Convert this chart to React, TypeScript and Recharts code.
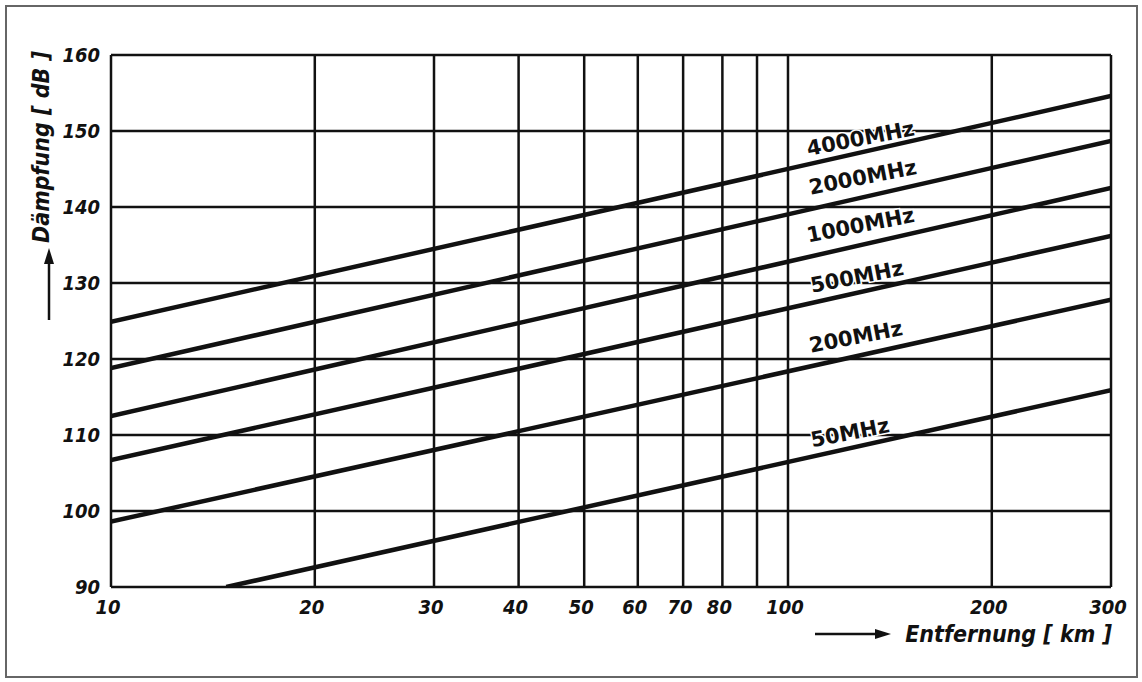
import React from "react";
import { CartesianGrid, Label, Line, LineChart, ReferenceDot, XAxis, YAxis } from "recharts";

// distance in km, loss in dB
const distanceKm = [10, 300];
const loss4000 = [124.9, 154.6];
const loss2000 = [118.8, 148.7];
const loss1000 = [112.5, 142.5];
const loss500 = [106.7, 136.2];
const loss200 = [98.6, 127.8];
const distance50 = [14.8, 300];
const loss50 = [90, 115.9];

const xTicks = [10, 20, 30, 40, 50, 60, 70, 80, 90, 100, 200, 300];
const yTicks = [90, 100, 110, 120, 130, 140, 150, 160];

const curveNames = ["4000MHz", "2000MHz", "1000MHz", "500MHz", "200MHz", "50MHz"];
const labelKm = [128, 129, 128, 126.5, 126, 123.5];
const labelDb = [149.0, 143.9, 137.6, 130.8, 122.9, 110.3];

const toPoints = (xs: number[], ys: number[]) => xs.map((x, i) => ({ km: x, db: ys[i] }));

const series = [
  toPoints(distanceKm, loss4000),
  toPoints(distanceKm, loss2000),
  toPoints(distanceKm, loss1000),
  toPoints(distanceKm, loss500),
  toPoints(distanceKm, loss200),
  toPoints(distance50, loss50)
];

const ink = "#111";
const tickFont = { fontFamily: "'DejaVu Sans Condensed', 'DejaVu Sans'", fontStyle: "italic", fontWeight: 700, fontSize: 20 };

function XTick({ x, y, payload }: any) {
  if (payload.value === 90) return null;
  return (
    <text x={x - 3} y={y + 20} textAnchor="middle" dominantBaseline="central" fill={ink} {...tickFont}>
      {payload.value}
    </text>
  );
}

function YTick({ x, y, payload }: any) {
  return (
    <text x={x - 11} y={y} textAnchor="end" dominantBaseline="central" fill={ink} {...tickFont}>
      {payload.value}
    </text>
  );
}

function CurveLabel({ viewBox, text }: any) {
  const cx = viewBox.x + viewBox.width / 2;
  const cy = viewBox.y + viewBox.height / 2;
  return (
    <text
      x={cx}
      y={cy}
      textAnchor="middle"
      dominantBaseline="central"
      transform={`rotate(-11, ${cx}, ${cy})`}
      fill={ink}
      stroke="#fff"
      strokeWidth={3}
      paintOrder="stroke"
      fontFamily="'DejaVu Sans', sans-serif"
      fontWeight={700}
      fontSize={21}
    >
      {text}
    </text>
  );
}

function YTitle() {
  const cx = 41;
  const cy = 147;
  return (
    <g>
      <text
        x={cx}
        y={cy}
        textAnchor="middle"
        dominantBaseline="central"
        transform={`rotate(-90, ${cx}, ${cy})`}
        fill={ink}
        {...tickFont}
        fontSize={23}
      >
        Dämpfung [ dB ]
      </text>
      <line x1={49} y1={320} x2={49} y2={262} stroke={ink} strokeWidth={2.5} />
      <polygon points="49,248 44,264 54,264" fill={ink} />
    </g>
  );
}

function XTitle() {
  return (
    <g>
      <line x1={815} y1={634} x2={876} y2={634} stroke={ink} strokeWidth={2.5} />
      <polygon points="891,634 875,629 875,639" fill={ink} />
      <text x={1112} y={634} textAnchor="end" dominantBaseline="central" fill={ink} {...tickFont} fontSize={23}>
        Entfernung [ km ]
      </text>
    </g>
  );
}

export default function App() {
  return (
    <div style={{ position: "relative", width: 1142, height: 682, background: "#fff" }}>
      <style>{"body{margin:0}"}</style>
      <div
        style={{
          position: "absolute",
          left: 5,
          top: 5,
          width: 1133,
          height: 673,
          border: "2px solid #666",
          boxSizing: "border-box"
        }}
      />
      <div style={{ position: "absolute", left: 0, top: 0 }}>
        <LineChart width={1142} height={682} margin={{ top: 55, right: 31, bottom: 65, left: 0 }}>
          <CartesianGrid stroke={ink} strokeWidth={2.5} horizontal vertical />
          <XAxis
            dataKey="km"
            type="number"
            scale="log"
            domain={[10, 300]}
            ticks={xTicks}
            interval={0}
            allowDataOverflow
            axisLine={false}
            tickLine={false}
            tickSize={0}
            tickMargin={0}
            height={30}
            tick={<XTick />}
          >
            <Label content={<XTitle />} />
          </XAxis>
          <YAxis
            dataKey="db"
            type="number"
            domain={[90, 160]}
            ticks={yTicks}
            interval={0}
            allowDataOverflow
            axisLine={false}
            tickLine={false}
            tickSize={0}
            tickMargin={0}
            width={111}
            tick={<YTick />}
          >
            <Label content={<YTitle />} />
          </YAxis>
          {series.map((pts, i) => (
            <Line
              key={curveNames[i]}
              data={pts}
              dataKey="db"
              type="linear"
              stroke={ink}
              strokeWidth={4.5}
              dot={false}
              activeDot={false}
              isAnimationActive={false}
            />
          ))}
          {curveNames.map((name, i) => (
            <ReferenceDot
              key={name}
              x={labelKm[i]}
              y={labelDb[i]}
              r={0}
              fill="none"
              stroke="none"
              label={<CurveLabel text={name} />}
            />
          ))}
        </LineChart>
      </div>
    </div>
  );
}
